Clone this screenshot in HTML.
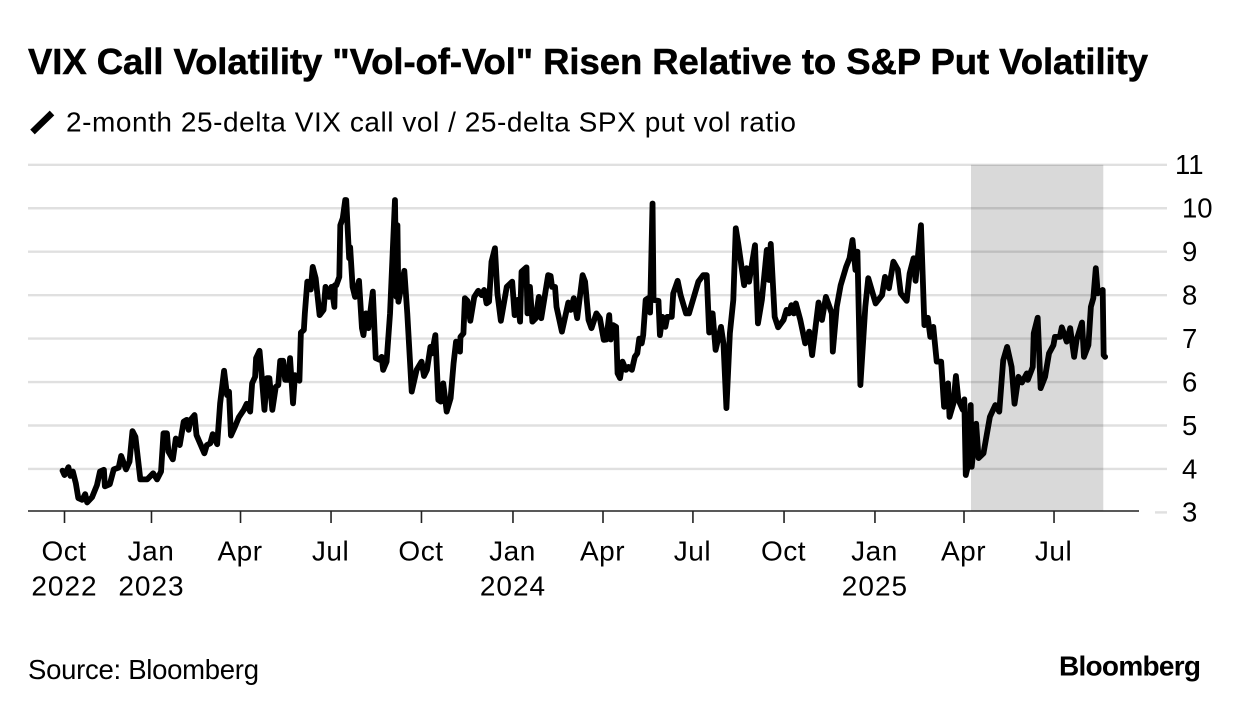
<!DOCTYPE html>
<html lang="en">
<head>
<meta charset="utf-8">
<title>VIX Call Volatility Chart</title>
<style>
  html, body { margin: 0; padding: 0; background: #fff; }
  body { width: 1240px; height: 712px; overflow: hidden; }
  svg { display: block; font-family: "Liberation Sans", Arial, sans-serif; fill: #000; }
</style>
</head>
<body>
<svg id="chart" xmlns="http://www.w3.org/2000/svg" width="1240" height="712" viewBox="0 0 1240 712">
  <rect x="0" y="0" width="1240" height="712" fill="#fff"/>
  <text x="28" y="74" font-size="36.5" font-weight="700" stroke="#000" stroke-width="0.5" textLength="1120" lengthAdjust="spacing">VIX Call Volatility "Vol-of-Vol" Risen Relative to S&amp;P Put Volatility</text>
  <line x1="32.5" y1="132" x2="52" y2="113" stroke="#000" stroke-width="6.5"/>
  <text x="66" y="131.5" font-size="28" textLength="730" lengthAdjust="spacing">2-month 25-delta VIX call vol / 25-delta SPX put vol ratio</text>
  <g id="grid"></g>
  <g id="shade"></g>
  <g id="xaxis"></g>
  <g id="ylabels"></g>
  <g id="series"></g>
  <text x="28" y="679" font-size="27.5" textLength="231" lengthAdjust="spacing">Source: Bloomberg</text>
  <text x="1059" y="675.5" font-size="28" font-weight="700" textLength="142" lengthAdjust="spacing">Bloomberg</text>
</svg>
<script>
// Days since 2022-10-01
const dayOffsets = [
  -2,0,4,6,8.5,11.5,14,18,21,23,28,33,36,40,41,46,50,55,57.5,62.5,66,69,72,77,84,90,94,98,100.5,104,105.5,110,113,117,121,124,126,128,132,134,142,144.5,148,150.5,155,158,162,165,167,169,173,177,182,185,188.5,190.5,193.5,194.5,198,200,203,205.5,208,211,214.5,217,219,222,224,227,229,232,234,238.5,240,243,244,246.5,250,252,255,259,
  263,265,268.5,271,274,274.5,276,279,280,282.5,285,286,289,290,292.5,295,299,302,303.5,306,308.5,313,316,320,322,323.5,327,330.5,335.5,337,338,339,345,348,352.5,357.5,362.5,365,368,371.5,373,376.5,379.5,382,384.5,388,392,395,397.5,401.5,402,405,406.5,409,412,416,420,423.5,426,428.5,431,433.5,437,439.5,443,449,454.5,457,460,462.5,464,469,470,472.5,475,478.5,481.5,484,491,493.5,495,498,499.5,505,511.5,514,517,520.5,526,528.5,532,
  535,540,543.5,547.5,550,553,554.5,557,560,561.5,564,566.5,570,572.5,576,579,581.5,583.5,586,587.5,590,592.5,594.5,597,598,603,604.5,607,610,612,616.5,618,622.5,625.5,631,634,643.5,648.5,652,654.5,656,658,661,666.5,669,672,675.5,679,681.5,684,690,692.5,695,701,704,708,713,715,717,721,724.5,730,733,735.5,738,740.5,742.5,747,752,756,759,765.5,769,773,779,780,784,788,793.5,797,800,803,805,808,813,816,819.5,823.5,830,
  833,837,841.5,846,849,855,858,862,864,869.5,873,876.5,879,882,885.5,890,893,897,898.5,902.5,905,907.5,912,913.5,915,917,920,921,925.5,928,933,939.5,945,949,953,957,961.5,964.5,968.5,972,977,978,983,984,988,991,995.5,999.5,1004,1005.5,1010.5,1012.5,1017.5,1021,1025,1027.5,1033,1035,1039.5,1042,1044.5,1047,1049,1054,1055,1056.5
];
// VIX call vol / SPX put vol ratio
const ratioValues = [
  3.96,3.86,4.04,3.84,3.94,3.67,3.33,3.29,3.42,3.23,3.35,3.63,3.94,3.98,3.6,3.65,3.99,4.03,4.3,3.99,4.17,4.87,4.74,3.76,3.76,3.9,3.76,3.94,4.82,4.82,4.4,4.22,4.7,4.55,5.09,5.13,4.9,5.13,5.24,4.78,4.36,4.55,4.59,4.8,4.57,5.51,6.26,5.7,5.78,4.77,4.97,5.19,5.36,5.5,5.32,5.97,6.12,6.55,6.72,6.2,5.36,6.09,6.09,5.36,5.89,5.93,6.49,6.49,6.05,6.05,6.55,5.51,6.16,6.03,7.14,7.2,7.58,8.31,8.13,8.65,8.39,7.54,
  7.66,8.19,7.96,8.19,7.73,8.23,8.23,8.42,9.61,9.77,10.19,10.19,8.85,9.1,8.19,7.96,8.33,7.24,7.08,7.58,7.24,8.08,6.55,6.51,6.58,6.28,6.47,7.58,10.19,7.96,9.61,7.85,8.56,7.58,5.78,6.28,6.47,6.14,6.28,6.81,6.66,7.08,5.59,5.55,5.97,5.32,5.63,6.43,6.93,6.7,7.04,7.12,7.93,7.87,7.41,7.96,8.1,8,8.12,7.81,7.85,8.77,9.08,8.04,7.41,8.19,8.31,7.54,7.89,7.39,8.54,8.64,7.58,8.19,7.39,7.47,7.96,7.47,8.46,8.44,8.19,8.19,7.73,7.16,7.83,7.66,7.93,7.47,8.46,8.31,7.43,
  7.24,7.58,7.47,6.97,6.98,7.54,6.98,7.31,7.27,6.2,6.09,6.47,6.28,6.35,6.28,6.58,6.66,7,6.89,7.08,7.89,7.93,7.6,10.11,7.89,7.87,7.08,7.5,7.27,7.5,7.5,8.04,8.33,8,7.58,7.58,8.31,8.46,8.46,7.14,7.58,7.58,6.74,7.27,6.89,5.4,7.12,7.89,9.54,9.19,8.23,8.62,8.31,9.15,7.35,7.89,9.04,8.35,9.18,7.5,7.26,7.43,7.66,7.58,7.77,7.58,7.81,7.43,6.89,7.16,6.62,7.83,7.43,7.96,7.58,6.7,7.73,8.23,8.65,8.85,9.27,8.58,9,5.93,7.73,8.39,8.12,7.81,8,
  8.42,8.16,8.77,8.59,8.04,7.87,8.5,8.85,8.33,9.61,7.31,7.48,7.04,7.27,6.47,6.47,5.43,5.97,5.2,5.51,6.14,5.59,5.36,5.6,3.86,4.05,5.47,4.05,5.04,4.25,4.36,5.2,5.47,5.32,6.5,6.81,6.35,5.5,6.12,5.99,6.2,6.05,6.35,7.12,7.48,5.86,6.12,6.66,6.85,7.04,7.04,7.26,6.93,7.24,6.58,6.97,7.37,6.58,6.85,7.73,7.93,8.62,8.04,8.12,6.62,6.58
];
const yTickValues = [3,4,5,6,7,8,9,10,11];
const xTickDays = [0,88.3,178.7,270.6,362.4,455.3,546.7,638,730.5,822.8,913.2,1004.6];
const xTickMonths = ["Oct","Jan","Apr","Jul","Oct","Jan","Apr","Jul","Oct","Jan","Apr","Jul"];
const xTickYears = ["2022","2023","","","","2024","","","","2025","",""];
const shadeDays = [920.3,1054.6];

const NS = "http://www.w3.org/2000/svg";
function xScale(day) { return 64.5 + day * 0.985; }
function yScale(v) { return 512.4 - (v - 3) * 43.45; }
function make(tag, parent, attrs, text) {
  const el = document.createElementNS(NS, tag);
  for (const k in attrs) el.setAttribute(k, attrs[k]);
  if (text !== undefined) el.textContent = text;
  parent.appendChild(el);
  return el;
}

const grid = document.getElementById("grid");
const ylabels = document.getElementById("ylabels");
yTickValues.forEach(function (v) {
  const gy = yScale(v);
  const gridLine = make("line", grid, { x1: v === 3 ? 1155 : 28, x2: 1167, y1: gy, y2: gy, stroke: "#e0e0e0", "stroke-width": 2.4 });
  
  
  const label = make("text", ylabels, { x: v === 11 ? 1175 : 1182, y: gy + 9.3, "font-size": 27.5 }, String(v));
  
  
});

const shade = document.getElementById("shade");
const band = make("rect", shade, { x: xScale(shadeDays[0]), y: yScale(11), width: xScale(shadeDays[1]) - xScale(shadeDays[0]), height: 511 - yScale(11), fill: "rgba(0,0,0,0.15)" });



const xaxis = document.getElementById("xaxis");
const axisLine = make("line", xaxis, { x1: 28, x2: 1139, y1: 511, y2: 511, stroke: "#222", "stroke-width": 1.6 });


xTickDays.forEach(function (d, i) {
  const tx = xScale(d);
  const tick = make("line", xaxis, { x1: tx, x2: tx, y1: 511, y2: 523, stroke: "#222", "stroke-width": 1.6 });
  
  
  const month = make("text", xaxis, { x: tx - 0.5, y: 560.7, "font-size": 28, "text-anchor": "middle", "letter-spacing": 0.5 }, xTickMonths[i]);
  
  
  if (xTickYears[i]) {
    const year = make("text", xaxis, { x: tx, y: 595.7, "font-size": 28, "text-anchor": "middle", "letter-spacing": 1 }, xTickYears[i]);
    
    
  }
});

const series = document.getElementById("series");
const pathD = dayOffsets.map(function (d, i) {
  return (i ? "L" : "M") + xScale(d).toFixed(2) + " " + yScale(ratioValues[i]).toFixed(2);
}).join(" ");
const ratioLine = make("path", series, { d: pathD, fill: "none", stroke: "#000", "stroke-width": 5.8, "stroke-linejoin": "round", "stroke-linecap": "round" });


</script>
</body>
</html>
